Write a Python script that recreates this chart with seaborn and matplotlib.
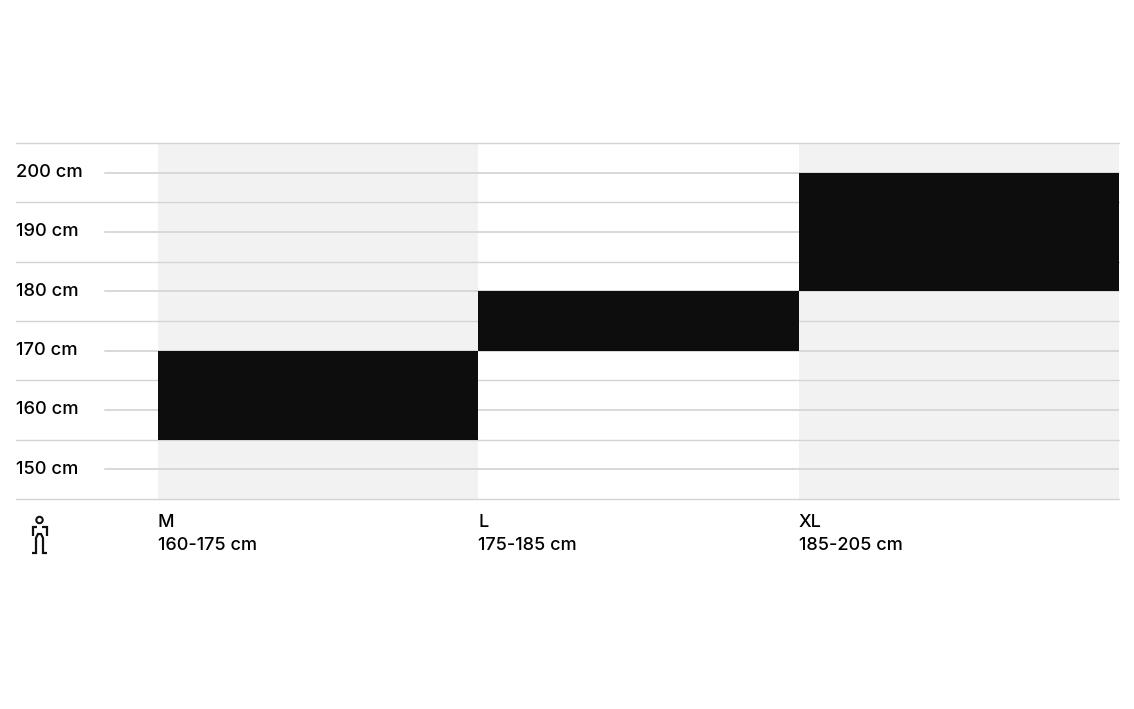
import matplotlib
matplotlib.use('Agg')
import matplotlib.pyplot as plt
from matplotlib.transforms import ScaledTranslation
import seaborn as sns
import pandas as pd

sizes = ['M', 'L', 'XL']
size_ranges = ['160-175 cm', '175-185 cm', '185-205 cm']
height_low = [155, 170, 180]
height_high = [170, 180, 200]
shaded_sizes = ['M', 'XL']
major_ticks = [150, 160, 170, 180, 190, 200]
minor_lines = [145, 155, 165, 175, 185, 195, 205]

sns.set_theme(style='white')
plt.rcParams['font.family'] = ['Inter', 'DejaVu Sans']

W, H = 1134, 709
fig = plt.figure(figsize=(W / 100, H / 100), dpi=100, facecolor='white')
ax = fig.add_axes([16 / W, 1 - 499 / H, 1103 / W, 356 / H])

# Grey bands behind M and XL
bands = pd.DataFrame({'size': shaded_sizes, 'span': [minor_lines[-1] - minor_lines[0]] * 2})
sns.barplot(data=bands, x='size', y='span', order=sizes, bottom=minor_lines[0],
            width=1, color='#f2f2f2', saturation=1, linewidth=0, zorder=1, ax=ax)

# Black bars for the recommended height of each size
bars = pd.DataFrame({'size': sizes,
                     'span': [hi - lo for lo, hi in zip(height_low, height_high)],
                     'low': height_low})
sns.barplot(data=bars, x='size', y='span', order=sizes, bottom=bars['low'].values,
            width=1, color='#0d0d0d', saturation=1, linewidth=0, zorder=3, ax=ax)

ax.set_xlim(-0.5 - 142 / 320.5, 2.5)
ax.set_ylim(minor_lines[0], minor_lines[-1])

for y in minor_lines:
    ax.axhline(y, color='#d4d4d4', lw=1.0, zorder=2, clip_on=False)
for y in major_ticks:
    ax.axhline(y, xmin=89 / 1103, color='#d8d8d8', lw=1.4, zorder=2)

ax.set_yticks(major_ticks, [f'{v} cm' for v in major_ticks])
ax.set_xticks([-0.5, 0.5, 1.5], [f'{s}\n{r}' for s, r in zip(sizes, size_ranges)])
ax.tick_params(axis='y', length=0, pad=0, labelsize=13.2, labelcolor='#000000')
ax.tick_params(axis='x', length=0, pad=11, labelsize=13, labelcolor='#000000')
up = ScaledTranslation(0, 2 / 100, fig.dpi_scale_trans)
for lab in ax.get_yticklabels():
    lab.set_ha('left')
    lab.set_fontweight('medium')
    lab.set_transform(lab.get_transform() + up)
for lab in ax.get_xticklabels():
    lab.set_ha('left')
    lab.set_linespacing(1.42)
    lab.set_fontweight('medium')
ax.set_xlabel('')
ax.set_ylabel('')
sns.despine(ax=ax, left=True, bottom=True)

# Small person icon under the axis, in pixel coordinates
def px(x, y):
    return x / W, 1 - y / H

icon = dict(color='#111111', lw=1.6, solid_capstyle='butt', solid_joinstyle='miter')
for path in ([(33, 536), (33, 527), (37, 527)], [(42, 527), (47, 527), (47, 536)],
             [(32, 553), (36, 553), (36, 538), (38, 534), (41, 534), (43, 538), (43, 553), (47, 553)]):
    xs, ys = zip(*[px(*p) for p in path])
    fig.add_artist(plt.Line2D(xs, ys, transform=fig.transFigure, **icon))
fig.add_artist(plt.Circle((39.5, H - 520), 3.2, transform=None, fill=False, ec='#111111', lw=1.5))

plt.savefig('out.png', dpi=100)
